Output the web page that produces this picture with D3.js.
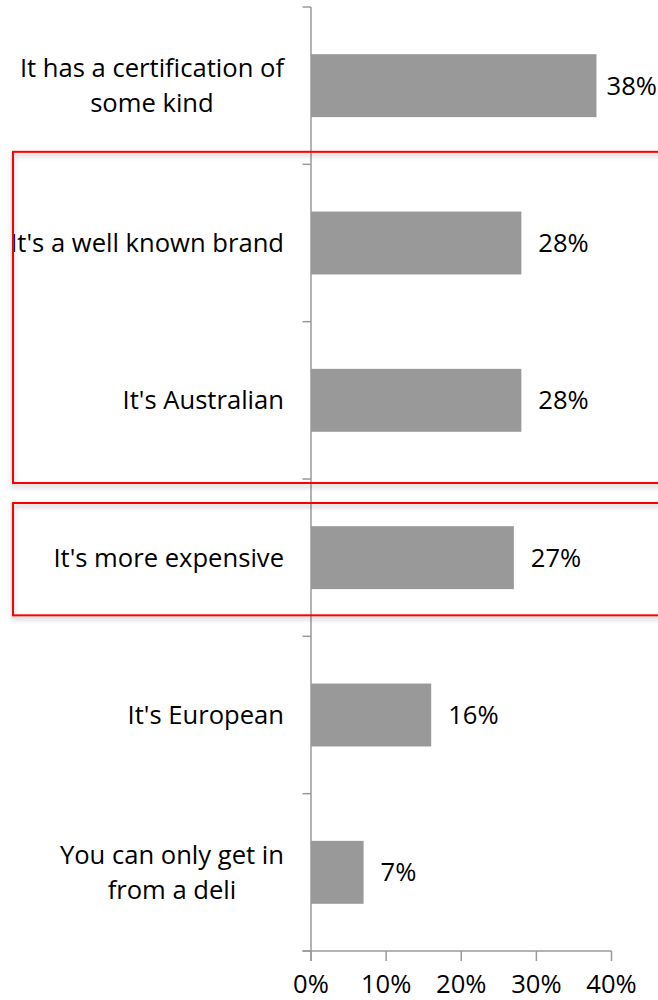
<!DOCTYPE html>
<html>
<head>
<meta charset="utf-8">
<script src="https://cdn.jsdelivr.net/npm/d3@7"></script>
<style>
  html, body { margin: 0; padding: 0; background: #fff; }
  svg { display: block; }
  text { font-family: "Open Sans", "Noto Sans", sans-serif; fill: #000; }
</style>
</head>
<body>
<script>
// Reasons for choosing a product, share of respondents
const categories = [
  "It has a certification of\nsome kind",
  "It's a well known brand",
  "It's Australian",
  "It's more expensive",
  "It's European",
  "You can only get in\nfrom a deli"
];
const values = [0.38, 0.28, 0.28, 0.27, 0.16, 0.07];
const valueLabels = ["38%", "28%", "28%", "27%", "16%", "7%"];
const xTicks = [0, 0.1, 0.2, 0.3, 0.4];
const xTickLabels = ["0%", "10%", "20%", "30%", "40%"];
// Highlighted groups of categories (first and last index of each group)
const highlightGroups = [[1, 2], [3, 3]];

const W = 658, H = 1000;
const FONT = 25.6;
const axisColor = "#9a9a9a";
const barColor = "#999999";

const svg = d3.select("body").append("svg")
  .attr("width", W).attr("height", H);

const defs = svg.append("defs");
const shadow = defs.append("filter").attr("id", "boxShadow")
  .attr("x", "-5%").attr("y", "-5%").attr("width", "110%").attr("height", "115%");
shadow.append("feDropShadow")
  .attr("dx", 0).attr("dy", 3).attr("stdDeviation", 2.5)
  .attr("flood-color", "#000").attr("flood-opacity", 0.28);

const x = d3.scaleLinear().domain([0, 0.4]).range([311, 611.5]);
const y = d3.scaleBand().domain(categories).range([7, 951])
  .paddingInner(0.6).paddingOuter(0.3);
const step = y.step();
const boundary = i => y.range()[0] + i * step;

// Bars
svg.append("g").selectAll("rect")
  .data(values)
  .join("rect")
  .attr("x", x(0))
  .attr("y", (d, i) => y(categories[i]))
  .attr("width", d => x(d) - x(0))
  .attr("height", y.bandwidth())
  .attr("fill", barColor);

// Value labels, kept inside the drawing width
const vl = svg.append("g").selectAll("text")
  .data(values)
  .join("text")
  .attr("y", (d, i) => y(categories[i]) + y.bandwidth() / 2 + 9)
  .attr("font-size", FONT)
  .text((d, i) => valueLabels[i]);
vl.attr("x", function (d) {
  const w = this.getComputedTextLength();
  return Math.min(x(d) + 17, W - w - 1);
});

// Category labels: right-aligned block, lines centred among themselves
const catG = svg.append("g");
categories.forEach((c, i) => {
  const lines = c.split("\n");
  const cy = y(c) + y.bandwidth() / 2;
  const lh = 35;
  const t = catG.append("text").attr("font-size", FONT).attr("text-anchor", "middle");
  const spans = lines.map((ln, k) => t.append("tspan")
    .attr("y", cy + 9 - (lines.length - 1) * lh / 2 + k * lh)
    .text(ln));
  const widths = spans.map(s => s.node().getComputedTextLength());
  const maxW = d3.max(widths);
  const centre = 284 - maxW / 2;
  spans.forEach(s => s.attr("x", centre));
});

// Vertical axis with ticks at category boundaries
const axisG = svg.append("g").attr("stroke", axisColor).attr("stroke-width", 1.5).attr("fill", "none");
axisG.append("line").attr("x1", x(0)).attr("x2", x(0)).attr("y1", boundary(0)).attr("y2", boundary(6) + 10);
d3.range(categories.length + 1).forEach(i => {
  axisG.append("line").attr("x1", x(0) - 8.5).attr("x2", x(0))
    .attr("y1", boundary(i)).attr("y2", boundary(i));
});

// Horizontal axis
const xAxisY = boundary(6);
axisG.append("line").attr("x1", x(0) - 8.5).attr("x2", x(0.4)).attr("y1", xAxisY).attr("y2", xAxisY);
xTicks.forEach(v => {
  axisG.append("line").attr("x1", x(v)).attr("x2", x(v)).attr("y1", xAxisY).attr("y2", xAxisY + 10);
});
svg.append("g").selectAll("text")
  .data(xTicks)
  .join("text")
  .attr("x", d => x(d))
  .attr("y", xAxisY + 42)
  .attr("text-anchor", "middle")
  .attr("font-size", FONT)
  .text((d, i) => xTickLabels[i]);

// Red highlight boxes around category groups
svg.append("g").selectAll("rect")
  .data(highlightGroups)
  .join("rect")
  .attr("x", 13)
  .attr("y", (g, j) => j === 0 ? boundary(g[0]) - 12.5 : boundary(g[0]) + 24)
  .attr("width", W + 20)
  .attr("height", (g, j) => j === 0
    ? (boundary(g[1] + 1) + 4) - (boundary(g[0]) - 12.5)
    : (boundary(g[1] + 1) - 21) - (boundary(g[0]) + 24))
  .attr("fill", "none")
  .attr("stroke", "#ff0000")
  .attr("stroke-width", 2)
  .attr("filter", "url(#boxShadow)");
</script>
</body>
</html>
